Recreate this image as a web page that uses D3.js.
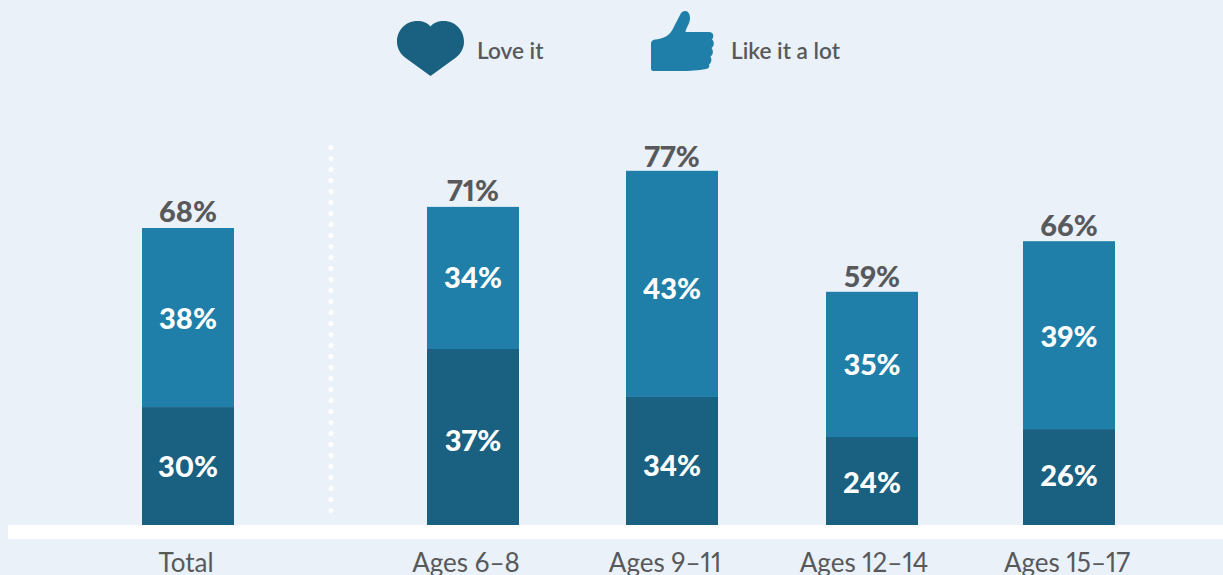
<!DOCTYPE html>
<html><head><meta charset="utf-8">
<script src="https://cdn.jsdelivr.net/npm/d3@7"></script>
<style>html,body{margin:0;padding:0;background:#eaf1f9;overflow:hidden}svg{display:block}text{font-family:Lato,sans-serif;font-variant-numeric:proportional-nums;font-feature-settings:"pnum" 1}</style>
</head><body><svg id="c" width="1223" height="575"></svg>
<script>
const totalCategory = ["Total"];
const ageCategories = ["Ages 6–8","Ages 9–11","Ages 12–14","Ages 15–17"];
const categories = totalCategory.concat(ageCategories);
// Printed percentages
const loveLabels  = [30,37,34,24,26];
const likeLabels  = [38,34,43,35,39];
const totalLabels = [68,71,77,59,66];
// Segment lengths: the source's bars are not drawn
// proportionally to their printed percentages, so lengths are kept separately.
const loveDrawn = [26.8,40.0,29.1,20.0,21.8];
const likeDrawn = [40.7,32.3,51.4,33.0,42.7];
const seriesNames = ["Love it","Like it a lot"];
const colors = {love:"#1a6181", like:"#1f7fa9", text:"#58595b", rule:"#ffffff"};
// Hand placement offsets of the source's text, separate from the data
const loveNudge = [0,3,5,1,-2], likeNudge = [1,0,5,0,1], totalNudge = [0,0,2,1,1];
const barNudge = [0,0,0,1,-1], tickNudge = {"Total":-2,"Ages 6–8":-7,"Ages 9–11":-7,"Ages 12–14":-7,"Ages 15–17":-3};

const svg = d3.select("#c");
const W=1223, base=525;
const y = d3.scaleLinear().domain([0,100]).range([base,base-440]);
const xTotal = d3.scaleBand().domain(totalCategory).range([88.5,287.5]).paddingInner(.5377).paddingOuter(.2688);
const xAges  = d3.scaleBand().domain(ageCategories).range([373.5,1169.5]).paddingInner(.5377).paddingOuter(.2688);
const bw = xAges.bandwidth();
const rows = categories.map((c,i)=>({c,i,love:loveDrawn[i],like:likeDrawn[i],ll:loveLabels[i],kl:likeLabels[i],tl:totalLabels[i]}));
const xLeft = d => (totalCategory.includes(d.c) ? xTotal(d.c) : xAges(d.c)) + barNudge[d.i];

// divider
svg.append("line").attr("x1",331).attr("x2",331).attr("y1",147.5).attr("y2",521)
  .attr("stroke",colors.rule).attr("stroke-width",5).attr("stroke-linecap","round").attr("stroke-dasharray","0 11");

const g = svg.selectAll("g.bar").data(rows).join("g").attr("class","bar");
g.append("rect").attr("x",xLeft).attr("width",bw).attr("y",d=>y(d.love)).attr("height",d=>y(0)-y(d.love)).attr("fill",colors.love);
g.append("rect").attr("x",xLeft).attr("width",bw).attr("y",d=>y(d.love+d.like)).attr("height",d=>y(0)-y(d.like)).attr("fill",colors.like);

const vlab = (sel,fs,fill)=>sel.attr("text-anchor","middle").attr("font-size",fs).attr("font-weight",900).attr("fill",fill);
g.append("text").call(vlab,29,"#fff").attr("x",d=>xLeft(d)+bw/2).attr("y",d=>(y(d.love)+y(0))/2+10.5+loveNudge[d.i]).text(d=>d.ll+"%");
g.append("text").call(vlab,29,"#fff").attr("x",d=>xLeft(d)+bw/2).attr("y",d=>(y(d.love+d.like)+y(d.love))/2+10.5+likeNudge[d.i]).text(d=>d.kl+"%");
g.append("text").call(vlab,29,colors.text).attr("x",d=>xLeft(d)+bw/2).attr("y",d=>y(d.love+d.like)-6+totalNudge[d.i]).text(d=>d.tl+"%");

// baseline rule
svg.append("rect").attr("x",8).attr("y",base).attr("width",W-8).attr("height",14).attr("fill",colors.rule);

// category axes
[xTotal,xAges].forEach(s=>{
  const a = svg.append("g").attr("transform",`translate(0,${base+29})`).call(d3.axisBottom(s).tickSize(0).tickPadding(0));
  a.select(".domain").remove();
  a.selectAll("text").attr("font-size",26).attr("fill",colors.text).attr("font-family","Lato,sans-serif").attr("dy","0.71em").attr("y",0)
   .attr("dx",d=>tickNudge[d]);
});

// legend
svg.append("path").attr("fill",colors.love)
  .attr("d","M430.5 76L405 57.5C399.5 53 397 47.5 397 41.5C397 29.5 406.5 21 417 21C423 21 428 23 430.5 26.5C433 23 438 21 444 21C454.5 21 464 29.5 464 41.5C464 47.5 461.5 53 456 57.5Z");
svg.append("path").attr("fill",colors.like)
  .attr("d","M651 43Q651.5 40 655 39.5C663 39 669 35.5 672 30.5L680 15C681 12.5 683 11 685 11C688.5 11 690 14.5 690 18C690 24 686 27.5 685.5 32L709 32C713.5 32 714.5 36.5 712 39.5C714.5 41.5 714.5 46 711.5 48C713.5 50 713.5 55 710.5 56.5C712 59 711.5 63 709 64.5C710 67 708.5 68.5 706 69C698 70.5 690 71 680 71L653.5 71Q651 71 651 68.5Z");
svg.selectAll("text.leg").data(seriesNames).join("text").attr("class","leg")
  .attr("x",(d,i)=>i?731:477).attr("y",59).attr("font-size",22.6).attr("font-weight",600).attr("fill",colors.text).text(d=>d);
</script></body></html>
